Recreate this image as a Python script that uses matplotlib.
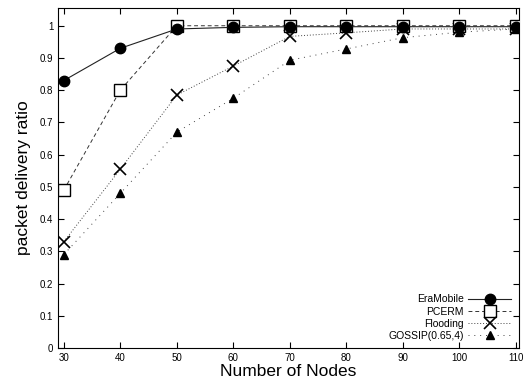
import matplotlib.pyplot as plt

# Datos
nodes = [30, 40, 50, 60, 70, 80, 90, 100, 110]
eramobile = [0.83, 0.93, 0.99, 0.995, 0.997, 0.997, 0.997, 0.997, 0.997]
pcerm = [0.49, 0.80, 1.0, 1.0, 1.0, 1.0, 1.0, 1.0, 1.0]
flooding = [0.33, 0.555, 0.785, 0.875, 0.967, 0.978, 0.99, 0.99, 0.99]
gossip = [0.29, 0.48, 0.67, 0.775, 0.893, 0.928, 0.963, 0.98, 0.99]
tick_labels = ['30', '40', '50', '60', '70', '80', '90', '100', '110']

plt.rcParams['font.family'] = ['Liberation Sans', 'DejaVu Sans']

fig = plt.figure(figsize=(5.24, 3.82), dpi=100)
ax = fig.add_axes([0.111, 0.089, 0.879, 0.890])

# Los círculos van encima de los cuadrados, como en el original
ax.plot(nodes, eramobile, color='#222222', linestyle='-', linewidth=0.8,
        marker='o', markersize=7.5, markerfacecolor='black', markeredgecolor='black',
        label='EraMobile', zorder=5)
ax.plot(nodes, pcerm, color='#333333', linestyle=(0, (4, 3)), linewidth=0.7,
        marker='s', markersize=8, markerfacecolor='white', markeredgecolor='black',
        label='PCERM', zorder=4)
ax.plot(nodes, flooding, color='#444444', linestyle=(0, (1, 2)), linewidth=0.7,
        marker='x', markersize=8.5, markeredgewidth=1.2, markeredgecolor='black',
        label='Flooding', zorder=3)
ax.plot(nodes, gossip, color='#444444', linestyle=(0, (1, 5)), linewidth=0.7,
        marker='^', markersize=6, markerfacecolor='black', markeredgecolor='black',
        label='GOSSIP(0.65,4)', zorder=2)

ax.set_xlim(29, 110.5)
ax.set_ylim(0, 1.055)
ax.set_xticks(nodes)
ax.set_xticklabels(tick_labels)
ax.set_yticks([i / 10 for i in range(11)])
ax.set_yticklabels(['0', '0.1', '0.2', '0.3', '0.4', '0.5', '0.6', '0.7', '0.8', '0.9', '1'])
ax.tick_params(direction='in', top=True, right=True, labelsize=7, length=4, width=0.8)

ax.set_xlabel('Number of Nodes', fontsize=12.5, labelpad=1)
ax.set_ylabel('packet delivery ratio', fontsize=12.5, labelpad=6)

ax.legend(loc='lower right', frameon=False, markerfirst=False, fontsize=7.5,
          handlelength=4.2, handletextpad=0.4, labelspacing=0.2, borderaxespad=0.3)

fig.savefig('out.png', dpi=100)
